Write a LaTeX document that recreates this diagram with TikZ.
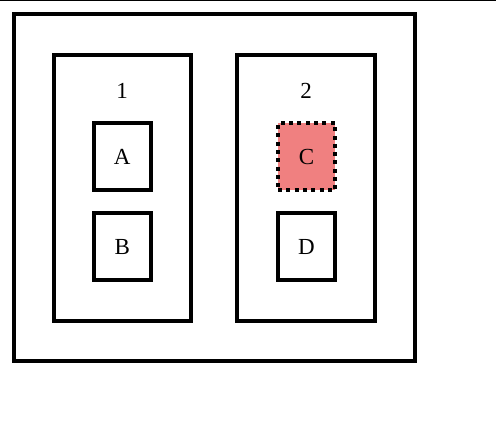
\documentclass[tikz,border=0pt]{standalone}
\usepackage{fontspec}
\setmainfont{Liberation Serif}
\definecolor{coral}{HTML}{F08080}
\begin{document}
\begin{tikzpicture}[x=1pt,y=-1pt,
  box/.style={draw=black,line width=4pt,rectangle,outer sep=0pt,anchor=north west},
  lbl/.style={font=\fontsize{23}{27}\selectfont,inner sep=0pt},
  inner/.style={box,lbl,minimum height=67pt,text height=15.5pt,text depth=0pt}]
\useasboundingbox (0,0) rectangle (496,435);
\draw[line width=1pt] (0,0.5) -- (496,0.5);
\node[box,minimum width=400.5pt,minimum height=347pt] (outer) at (14,14) {};
\node[box,minimum width=136.5pt,minimum height=266pt] (g1) at (54,55) {};
\node[box,minimum width=138pt,minimum height=266pt] (g2) at (237,55) {};
\node[lbl] (l1) at (122,91) {1};
\node[lbl] (l2) at (306,91) {2};
\node[inner,minimum width=56.5pt] (A) at (94,123.5) {A};
\node[inner,minimum width=56.5pt] (B) at (94,213.5) {B};
\node[inner,minimum width=57pt,fill=coral,dash pattern=on 4pt off 4.3pt] (C) at (278,123.5) {C};
\node[inner,minimum width=57pt] (D) at (278,213.5) {D};
\end{tikzpicture}
\end{document}
